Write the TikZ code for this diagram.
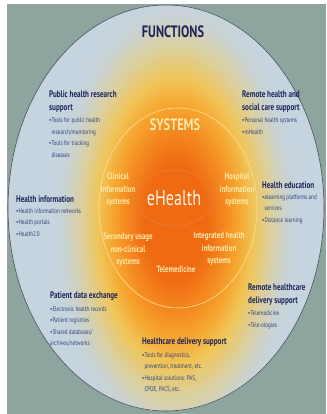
\documentclass[tikz,border=0pt]{standalone}
\usepackage{fontspec}
\setmainfont{PT Sans}[FakeStretch=0.75]
\usepackage{xcolor}
\usetikzlibrary{positioning}
\usetikzlibrary{shapes.geometric}
\definecolor{mbg}{RGB}{141,164,159}
\definecolor{mblue}{RGB}{198,212,224}
\definecolor{mnavy}{RGB}{30,38,90}
\definecolor{mitem}{RGB}{50,66,120}
\definecolor{msys}{RGB}{253,233,168}
\definecolor{mrim}{RGB}{72,84,88}
\definecolor{mring}{RGB}{238,122,48}
\definecolor{mdeep}{RGB}{240,106,18}
\definecolor{morange}{RGB}{244,136,32}
\definecolor{mamber}{RGB}{245,166,48}
\definecolor{myellow}{RGB}{240,198,90}
\definecolor{mbeige}{RGB}{218,208,160}
\definecolor{mmist}{RGB}{202,210,210}
\definecolor{mwhite}{RGB}{255,244,230}
\newcommand{\blt}{\textbullet}
\newcommand{\bltpad}{\phantom{\textbullet}}

\begin{document}
\begin{tikzpicture}[x=1pt, y=1pt,
    fhead/.style={anchor=north west, inner sep=0pt, align=left, text=mnavy, font=\bfseries\fontsize{9.5}{12.5}\selectfont},
    fitems/.style={inner sep=0pt, align=left, text=mitem, font=\fontsize{6.8}{11.5}\selectfont},
    syslabel/.style={inner sep=0pt, align=center, text=msys, font=\bfseries\fontsize{9.2}{12.5}\selectfont},
    ring/.style={line width=.6pt},
]
\useasboundingbox (0,0) rectangle (326,414);
\fill[white] (0,0) rectangle (326,414);
\fill[mbg] (7,0) rectangle (326,410);

\coordinate (rim) at (166,206);
\coordinate (glow) at (176,192);

% functions ring with the glow
\fill[mblue] (rim) ellipse [x radius=158pt, y radius=203pt];
\begin{scope}
\clip (rim) ellipse [x radius=158pt, y radius=203pt];
\foreach \ca/\cb/\ta/\tb in {mblue/mmist/1.00/0.90, mmist/mbeige/0.90/0.78, mbeige/myellow/0.78/0.64, myellow/mamber/0.64/0.52, mamber/morange/0.52/0.40, morange/mdeep/0.40/0.26}
  \foreach \k in {0,...,7} {
    \pgfmathsetmacro\ts{\ta-(\ta-\tb)*\k/8}
    \pgfmathtruncatemacro\mixp{100-100*\k/8}
    \colorlet{glowstep}{\ca!\mixp!\cb}
    \fill[glowstep] (glow) ellipse [x radius=\ts*124pt, y radius=\ts*228pt];
  }
\fill[mdeep] (glow) ellipse [x radius=0.26*124pt, y radius=0.26*228pt];
\end{scope}
\draw[ring, mrim] (rim) ellipse [x radius=158pt, y radius=203pt];
\draw[ring, msys!90!orange] (178,206) ellipse [x radius=79pt, y radius=100pt];

\node[text=mnavy, font=\bfseries\fontsize{16.5}{18}\selectfont] (functions) at (173,382) {FUNCTIONS};

\node[draw=mring, line width=.8pt, ellipse, minimum width=74pt, minimum height=56pt, inner sep=0pt, text=mwhite, font=\fontsize{21.5}{26}\selectfont] (ehealth) at (174,216) {eHealth};

\node[text=msys, font=\bfseries\fontsize{16.5}{20}\selectfont, yshift=73pt, xshift=1pt] (systems) at (ehealth) {SYSTEMS};
\node[syslabel, xshift=-56pt, yshift=8pt] (clinical) at (ehealth) {Clinical\\Information\\systems};
\node[syslabel, xshift=63pt, yshift=8pt] (hospital) at (ehealth) {Hospital\\information\\systems};
\node[syslabel, xshift=-46pt, yshift=-52pt] (secondary) at (ehealth) {Secondary usage\\non-clinical\\systems};
\node[syslabel, xshift=2pt, yshift=-71pt] (telemed) at (ehealth) {Telemedicine};
\node[syslabel, xshift=45pt, yshift=-51pt] (integrated) at (ehealth) {Integrated health\\information\\systems};

\node[fhead] (pubhealth) at (49,323) {Public health research\\support};
\node[fitems, below right=5pt and 0pt of pubhealth.south west] (pubhealth_items) {\blt Tools for public health\\\bltpad research/monitoring\\\blt Tools for tracking\\\bltpad diseases};

\node[fhead] (remotesocial) at (242,323) {Remote health and\\social care support};
\node[fitems, below right=5pt and 0pt of remotesocial.south west] (remotesocial_items) {\blt Personal health systems\\\blt mHealth};

\node[fhead] (healthinfo) at (16,218) {Health information};
\node[fitems, below right=5pt and 0pt of healthinfo.south west] (healthinfo_items) {\blt Health information networks\\\blt Health portals\\\blt Health2.0};

\node[fhead] (healthedu) at (262,232) {Health education};
\node[fitems, below right=5pt and 0pt of healthedu.south west] (healthedu_items) {\blt elearning platforms and\\\bltpad services\\\blt Distance learning};

\node[fhead] (patient) at (50,122) {Patient data exchange};
\node[fitems, below right=5pt and 0pt of patient.south west] (patient_items) {\blt Electronic health records\\\blt Patient registries\\\blt Shared databases/\\archives/networks};

\node[fhead] (remotedelivery) at (248,130) {Remote healthcare\\delivery support};
\node[fitems, below right=5pt and 0pt of remotedelivery.south west] (remotedelivery_items) {\blt Telemedicine\\\blt Tele-ologies};

\node[fhead] (delivery) at (142,76) {Healthcare delivery support};
\node[fitems, below right=5pt and 0pt of delivery.south west] (delivery_items) {\blt Tools for diagnostics,\\\bltpad prevention, treatment, etc.\\\blt Hospital solutions: PAS,\\\bltpad CPOE, PACS, etc.};

\end{tikzpicture}
\end{document}
